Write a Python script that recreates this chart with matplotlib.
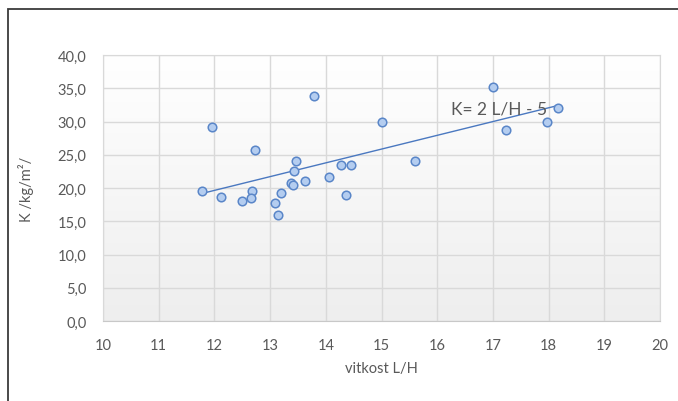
import numpy as np
import matplotlib
matplotlib.use("Agg")
import matplotlib.pyplot as plt
from matplotlib.patches import Rectangle

# data
vitkost = [13.79, 15.00, 12.73, 15.61, 13.46, 14.28, 14.45, 13.43, 14.05, 13.63,
           13.38, 13.41, 12.68, 12.49, 12.65, 13.19, 13.08, 14.37, 13.15, 11.96,
           11.78, 12.12, 17.01, 18.17, 17.98, 17.23]
K = [33.8, 30.0, 25.7, 24.1, 24.1, 23.5, 23.5, 22.5, 21.7, 21.0,
     20.75, 20.4, 19.55, 18.1, 18.45, 19.2, 17.8, 18.9, 16.0, 29.1,
     19.5, 18.6, 35.2, 32.0, 30.0, 28.7]
trend_slope = 2.07
trend_intercept = -5.2
trend_label = "K= 2 L/H - 5"
x_ticks = list(range(10, 21))
y_ticks = [0, 5, 10, 15, 20, 25, 30, 35, 40]

plt.rcParams['font.family'] = ['Lato', 'DejaVu Sans']
txt = '#595959'

fig = plt.figure(figsize=(6.78, 4.02), dpi=100)
ax = fig.add_axes([103/678, 1-322/402, 557/678, 266/402])

# plot area gradient (white -> light gray)
grad = np.linspace(1, 0, 256).reshape(-1, 1)
ax.imshow(grad, extent=[0, 1, 0, 1], transform=ax.transAxes, aspect='auto',
          cmap=matplotlib.colors.LinearSegmentedColormap.from_list('g', ['#eeeeee', '#ffffff']),
          zorder=0, interpolation='bilinear')

ax.set_xlim(10, 20)
ax.set_ylim(0, 40)
ax.set_xticks(x_ticks)
ax.set_yticks(y_ticks)
ax.set_yticklabels([f"{v:.1f}".replace('.', ',') for v in y_ticks])
ax.grid(True, color='#d9d9d9', linewidth=1.0, zorder=1)
ax.set_axisbelow(True)
for s in ax.spines.values():
    s.set_color('#d9d9d9')
ax.spines['bottom'].set_color('#c8c8c8')
ax.tick_params(length=0, colors=txt, labelsize=10.5, pad=12)
ax.tick_params(axis='x', pad=12)

# trend line
xl = np.array([min(vitkost), max(vitkost)])
ax.plot(xl, trend_slope*xl + trend_intercept, color='#4a78c0', linewidth=1.0, zorder=2)

ax.scatter(vitkost, K, s=38, facecolor='#b4cdf0', edgecolor='#5a86c8',
           linewidth=1.1, zorder=3)

ax.text(16.24, 31.9, trend_label, fontsize=12.5, color=txt, va='center', ha='left', zorder=4)

ax.set_xlabel('vitkost L/H', color=txt, fontsize=10.5, labelpad=7)
ax.set_ylabel('K /kg/m²/', color=txt, fontsize=10.5, labelpad=17)

# chart border (left and top visible)
fig.patches.append(Rectangle((8/678, -0.2), 1.2, 1.2 - 10/402, transform=fig.transFigure,
                             fill=False, edgecolor='#3a3a3a', linewidth=1.3))

fig.savefig('out.png', dpi=100)
